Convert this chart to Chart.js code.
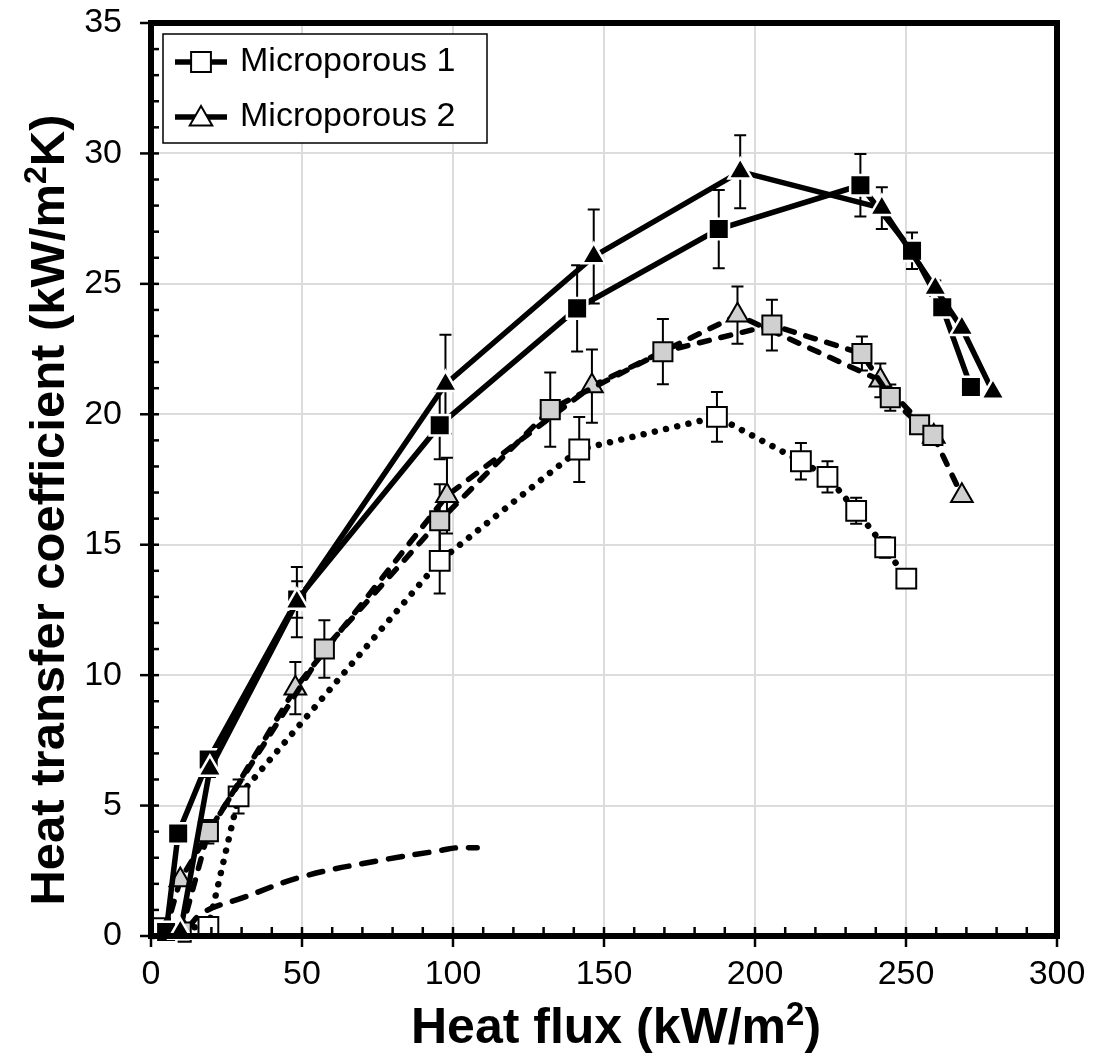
<!DOCTYPE html>
<html><head><meta charset="utf-8">
<script src="https://cdn.jsdelivr.net/npm/chart.js@4/dist/chart.umd.min.js"></script>
<style>html,body{margin:0;padding:0;background:#fff;}#wrap{width:1093px;height:1063px;position:relative;}</style>
</head><body><div id="wrap"><canvas id="c" width="1093" height="1063"></canvas></div>
<script>
// ---------- data ----------
const xMin = 0, xMax = 300, xStep = 50, xMinorStep = 10;
const yMin = 0, yMax = 35, yStep = 5, yMinorStep = 1;
// titles: [normal text, superscript, normal text, ...]
const xTitleParts = ['Heat flux (kW/m', '2', ')'];
const yTitleParts = ['Heat transfer coefficient (kW/m', '2', 'K)'];
const legendLabels = ['Microporous 1', 'Microporous 2'];

// Microporous 2, filled black triangles (solid line)
const blackTriX = [9.7, 19.5, 48.3, 97.5, 146.6, 195.1, 242.0, 259.7, 268.5, 278.8];
const blackTriY = [0.15, 6.4, 12.8, 21.15, 26.05, 29.3, 27.9, 24.83, 23.3, 20.85];
const blackTriE = [0, 0.3, 1.35, 1.9, 1.8, 1.4, 0.8, 0.3, 0.15, 0];

// Microporous 1, filled black squares (solid line)
const blackSqX = [5, 9, 19.1, 48.4, 95.6, 141.1, 188.0, 234.9, 252.0, 262.0, 271.5];
const blackSqY = [0.15, 3.93, 6.77, 12.9, 19.58, 24.06, 27.1, 28.78, 26.27, 24.1, 21.05];
const blackSqE = [0, 0, 0.3, 0.7, 1.3, 1.65, 1.5, 1.2, 0.7, 0.3, 0];

// Microporous 1, grey squares (dashed line)
const greySqX = [10, 19, 57.4, 95.6, 132.2, 169.5, 205.6, 235.4, 244.8, 254.5, 258.9];
const greySqY = [0.15, 4.0, 11.0, 15.92, 20.18, 22.4, 23.42, 22.33, 20.64, 19.6, 19.19];
const greySqE = [0, 0.45, 1.1, 1.4, 1.42, 1.25, 0.97, 0.65, 0.5, 0.2, 0.1];

// Microporous 2, grey triangles (dashed line)
const greyTriX = [4.7, 9.7, 47.8, 98.0, 146.0, 194.2, 241.5, 259.2, 268.5];
const greyTriY = [0.15, 2.15, 9.5, 16.88, 21.08, 23.8, 21.3, 19.15, 16.88];
const greyTriE = [0, 0, 1.0, 1.45, 1.4, 1.1, 0.65, 0.15, 0];

// Microporous 1, open squares (dotted line)
const whiteSqX = [3, 19, 29, 95.6, 141.8, 187.4, 215.2, 224.0, 233.5, 243.1, 250.1];
const whiteSqY = [0.3, 0.35, 5.35, 14.38, 18.65, 19.9, 18.2, 17.6, 16.3, 14.9, 13.7];
const whiteSqE = [0, 0, 0.65, 1.25, 1.25, 0.95, 0.7, 0.6, 0.5, 0.4, 0.15];

// plain surface curve (dashed, no markers)
const plainX = [12, 17.5, 30, 50, 75, 96, 101, 108];
const plainY = [0.3, 0.92, 1.45, 2.27, 2.88, 3.28, 3.38, 3.38];

// ---------- build ----------
const pts = (xs, ys) => xs.map((v, i) => ({x: v, y: ys[i]}));
const FONT = "'Liberation Sans', Arial, Helvetica, sans-serif";

const datasets = [
  {label: 'blackTri', data: pts(blackTriX, blackTriY), errors: blackTriE,
   borderColor: '#000', borderWidth: 5.5, showLine: true, tension: 0,
   pointStyle: 'triangle', pointRadius: 13.5, pointBackgroundColor: '#000', pointBorderColor: '#fff', pointBorderWidth: 2.5},
  {label: 'blackSq', data: pts(blackSqX, blackSqY), errors: blackSqE,
   borderColor: '#000', borderWidth: 5.5, showLine: true, tension: 0,
   pointStyle: 'rect', pointRadius: 14.5, pointBackgroundColor: '#000', pointBorderColor: '#fff', pointBorderWidth: 2.5},
  {label: 'greySq', data: pts(greySqX, greySqY), errors: greySqE,
   borderColor: '#000', borderWidth: 5.5, borderDash: [10, 12], borderCapStyle: 'round', showLine: true, tension: 0,
   pointStyle: 'rect', pointRadius: 13.5, pointBackgroundColor: '#d0d0d0', pointBorderColor: '#000', pointBorderWidth: 2},
  {label: 'greyTri', data: pts(greyTriX, greyTriY), errors: greyTriE,
   borderColor: '#000', borderWidth: 5.5, borderDash: [10, 12], borderCapStyle: 'round', showLine: true, tension: 0,
   pointStyle: 'triangle', pointRadius: 12.5, pointBackgroundColor: '#d0d0d0', pointBorderColor: '#000', pointBorderWidth: 2},
  {label: 'whiteSq', data: pts(whiteSqX, whiteSqY), errors: whiteSqE,
   borderColor: '#000', borderWidth: 6.5, borderDash: [0.01, 11.5], borderCapStyle: 'round', showLine: true, tension: 0,
   pointStyle: 'rect', pointRadius: 14, pointBackgroundColor: '#fff', pointBorderColor: '#000', pointBorderWidth: 2},
  {label: 'plain', data: pts(plainX, plainY),
   borderColor: '#000', borderWidth: 5.5, borderDash: [14, 13], borderCapStyle: 'round', showLine: true, tension: 0.4,
   pointRadius: 0}
];
datasets.forEach(d => { d.clip = false; d.pointHoverRadius = d.pointRadius; d.fill = false; });

const errorBars = {
  id: 'errorBars',
  beforeDatasetsDraw(chart) {
    const {ctx, scales: {x, y}} = chart;
    ctx.save();
    ctx.strokeStyle = '#000';
    ctx.lineWidth = 2;
    chart.data.datasets.forEach(ds => {
      if (!ds.errors) return;
      ds.data.forEach((p, i) => {
        const e = ds.errors[i];
        if (!e) return;
        const px = x.getPixelForValue(p.x);
        const t = y.getPixelForValue(p.y + e), b = y.getPixelForValue(p.y - e);
        ctx.beginPath();
        ctx.moveTo(px, t); ctx.lineTo(px, b);
        ctx.moveTo(px - 6, t); ctx.lineTo(px + 6, t);
        ctx.moveTo(px - 6, b); ctx.lineTo(px + 6, b);
        ctx.stroke();
      });
    });
    ctx.restore();
  }
};

const frame = {
  id: 'frame',
  afterDatasetsDraw(chart) {
    const {ctx, chartArea: a, scales: {x, y}} = chart;
    ctx.save();
    ctx.strokeStyle = '#000';
    ctx.lineWidth = 2.5;
    for (let v = xMin; v <= xMax; v += xMinorStep) {
      const px = x.getPixelForValue(v);
      const major = v % xStep === 0;
      ctx.beginPath();
      ctx.moveTo(px, a.bottom - 9);
      ctx.lineTo(px, major ? a.bottom + 11 : a.bottom);
      ctx.stroke();
    }
    for (let v = yMin; v <= yMax; v += yMinorStep) {
      const py = y.getPixelForValue(v);
      const major = v % yStep === 0;
      ctx.beginPath();
      ctx.moveTo(major ? a.left - 11 : a.left, py);
      ctx.lineTo(a.left + 8, py);
      ctx.stroke();
    }
    ctx.lineWidth = 6;
    ctx.strokeRect(a.left, a.top, a.right - a.left, a.bottom - a.top);
    ctx.restore();
  }
};

function drawRichText(ctx, parts, cx, cy, size) {
  const normal = 'bold ' + size + 'px ' + FONT;
  const sup = 'bold ' + Math.round(size * 0.66) + 'px ' + FONT;
  let total = 0;
  const widths = parts.map((t, i) => { ctx.font = i % 2 ? sup : normal; const w = ctx.measureText(t).width; total += w; return w; });
  let x = cx - total / 2;
  ctx.textAlign = 'left';
  ctx.textBaseline = 'alphabetic';
  const base = cy + size * 0.36;
  parts.forEach((t, i) => {
    ctx.font = i % 2 ? sup : normal;
    ctx.fillText(t, x, i % 2 ? base - size * 0.36 : base);
    x += widths[i];
  });
}

const titlesAndLegend = {
  id: 'titlesAndLegend',
  afterDraw(chart) {
    const ctx = chart.ctx;
    ctx.save();
    ctx.fillStyle = '#000';
    drawRichText(ctx, xTitleParts, 616, 1025, 50);
    ctx.save();
    ctx.translate(46, 510);
    ctx.rotate(-Math.PI / 2);
    drawRichText(ctx, yTitleParts, 0, 0, 49);
    ctx.restore();

    // legend
    const bx = 163, by = 34, bw = 324, bh = 109;
    ctx.fillStyle = '#fff';
    ctx.fillRect(bx, by, bw, bh);
    ctx.strokeStyle = '#000';
    ctx.lineWidth = 1.5;
    ctx.strokeRect(bx, by, bw, bh);
    const rows = [62, 117];
    const styles = [{pointStyle: 'rect', radius: 14}, {pointStyle: 'triangle', radius: 13}];
    rows.forEach((ry, i) => {
      ctx.strokeStyle = '#000';
      ctx.lineWidth = 5.5;
      ctx.beginPath();
      ctx.moveTo(175, ry); ctx.lineTo(227, ry);
      ctx.stroke();
      ctx.fillStyle = '#fff';
      ctx.lineWidth = 2;
      Chart.helpers.drawPoint(ctx, {pointStyle: styles[i].pointStyle, radius: styles[i].radius, rotation: 0, borderWidth: 2}, 201, ry + (i === 1 ? 2 : 0));
      ctx.fillStyle = '#000';
      ctx.font = '34px ' + FONT;
      ctx.textAlign = 'left';
      ctx.textBaseline = 'middle';
      ctx.fillText(legendLabels[i], 240, ry);
    });
    ctx.restore();
  }
};

new Chart(document.getElementById('c'), {
  type: 'scatter',
  data: {datasets},
  plugins: [errorBars, frame, titlesAndLegend],
  options: {
    responsive: false,
    animation: false,
    devicePixelRatio: 1,
    layout: {padding: {top: 23, right: 36, left: 0, bottom: 0}},
    plugins: {legend: {display: false}, tooltip: {enabled: false}},
    scales: {
      x: {
        type: 'linear', min: xMin, max: xMax,
        ticks: {stepSize: xStep, color: '#000', font: {size: 34, family: FONT}, padding: 18, maxRotation: 0},
        grid: {color: '#dcdcdc', lineWidth: 2, drawTicks: false},
        border: {display: false},
        afterFit(s) { s.height = 127; s.paddingLeft = 0; s.paddingRight = 0; }
      },
      y: {
        type: 'linear', min: yMin, max: yMax,
        ticks: {stepSize: yStep, color: '#000', font: {size: 34, family: FONT}, padding: 29},
        grid: {color: '#dcdcdc', lineWidth: 2, drawTicks: false},
        border: {display: false},
        afterFit(s) { s.width = 151; s.paddingTop = 0; s.paddingBottom = 0; }
      }
    }
  }
});
</script>
</body></html>
